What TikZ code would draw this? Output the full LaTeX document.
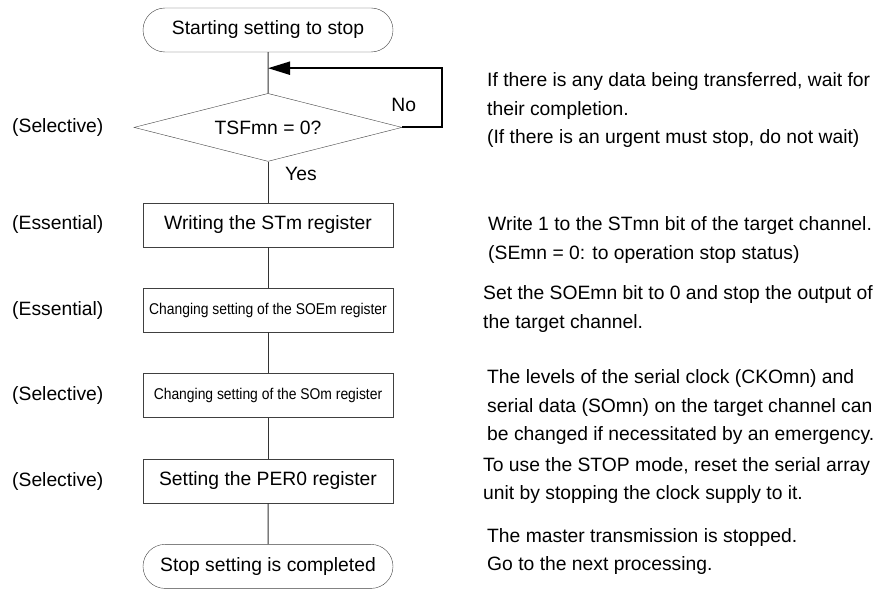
\documentclass[tikz,border=0pt]{standalone}
\usepackage{fontspec}
\setmainfont{Liberation Sans}
\newfontfamily\narrowfont[FakeStretch=0.89]{Liberation Sans}
\usetikzlibrary{shapes.geometric, shapes.misc, arrows.meta, positioning, calc}

\begin{document}
\begin{tikzpicture}[
    x=1pt, y=-1pt,
    node distance=41pt,
    term/.style={draw=black!75, rounded rectangle, minimum width=250pt, minimum height=44pt, inner sep=0pt, font=\fontsize{19.3}{23}\selectfont},
    action/.style={draw=black!75, rectangle, minimum width=250pt, minimum height=44pt, inner sep=0pt, font=\fontsize{19.3}{23}\selectfont},
    smallaction/.style={action, font=\narrowfont\fontsize{15.6}{18}\selectfont},
    decision/.style={draw=black!75, diamond, aspect=3.9, minimum width=268pt, minimum height=68pt, inner sep=0pt, font=\fontsize{19.3}{23}\selectfont},
    tag/.style={anchor=west, inner sep=0pt, font=\fontsize{19.3}{23}\selectfont},
    note/.style={anchor=west, align=left, inner sep=0pt, font=\fontsize{19.3}{28.5}\selectfont},
    line/.style={draw=black!80, line width=1pt},
    back/.style={draw, line width=2pt, -{Triangle[length=22pt,width=13pt]}}
]
\useasboundingbox (0,0) rectangle (880,594);

\node[term] (start) at (268,30) {Starting setting to stop};
\node[decision, below=of start] (dec) {TSFmn = 0?};
\node[action, below=of dec] (st) {Writing the STm register};
\node[smallaction, below=of st] (soe) {Changing setting of the SOEm register};
\node[smallaction, below=of soe] (so) {Changing setting of the SOm register};
\node[action, below=of so] (per) {Setting the PER0 register};
\node[term, below=of per] (done) {Stop setting is completed};
\coordinate[below=16pt of start.south] (join);

% left column
\node[tag] at (12,0 |- dec) {(Selective)};
\node[tag] at (12,0 |- st) {(Essential)};
\node[tag] at (12,0 |- soe) {(Essential)};
\node[tag] at (12,0 |- so) {(Selective)};
\node[tag] at (12,0 |- per) {(Selective)};

% right column
\node[note] at (487,110.5) {If there is any data being transferred, wait for\\their completion.\\(If there is an urgent must stop, do not wait)};
\node[note] at (488,240) {Write 1 to the STmn bit of the target channel.\\(SEmn = 0: to operation stop status)};
\node[note] at (483,309) {Set the SOEmn bit to 0 and stop the output of\\the target channel.};
\node[note] at (487,407.5) {The levels of the serial clock (CKOmn) and\\serial data (SOmn) on the target channel can\\be changed if necessitated by an emergency.};
\node[note] at (483,480.5) {To use the STOP mode, reset the serial array\\unit by stopping the clock supply to it.};
\node[note] at (487,551.5) {The master transmission is stopped.\\Go to the next processing.};

\draw[line] (start) -- (dec);
\draw[line] (dec) -- (st);
\draw[line] (st) -- (soe);
\draw[line] (soe) -- (so);
\draw[line] (so) -- (per);
\draw[line] (per) -- (done);
\draw[back] (dec.east) -- ++(40,0) |- (join);
\node[tag] at ($(dec.east)+(-11,-22)$) {No};
\node[tag] at ($(dec.south)+(17,12)$) {Yes};

\end{tikzpicture}
\end{document}
